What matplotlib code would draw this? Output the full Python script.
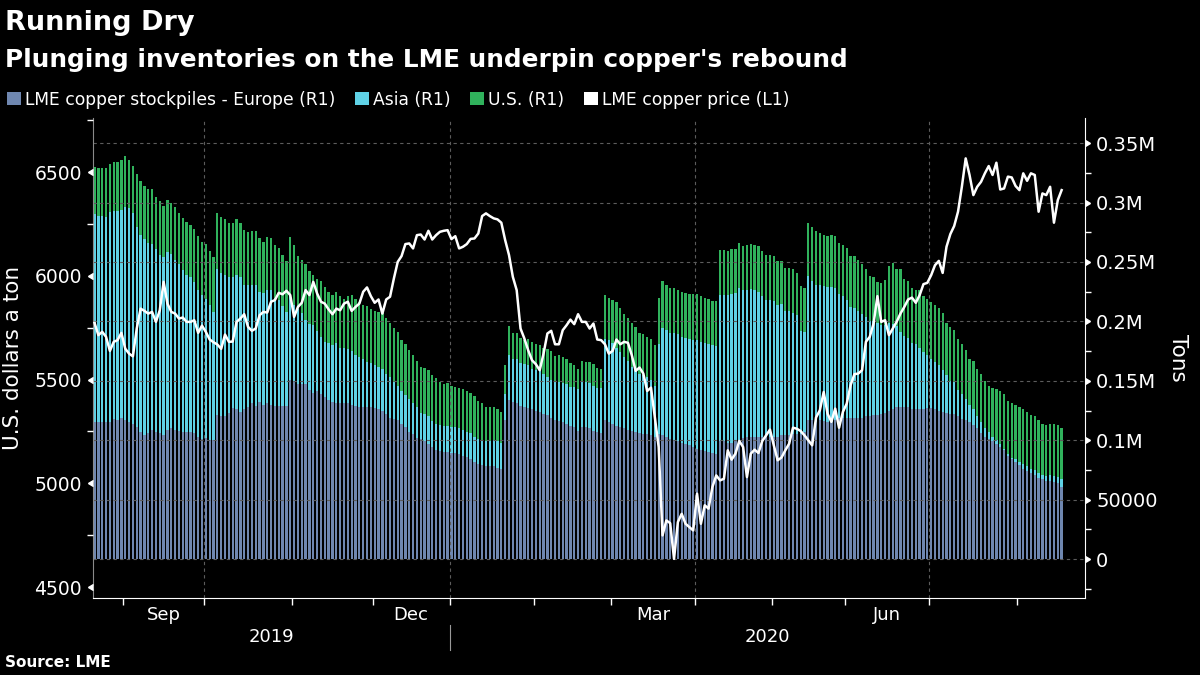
import numpy as np
import pandas as pd
import matplotlib
matplotlib.use('Agg')
import matplotlib.pyplot as plt
import matplotlib.transforms as mtransforms
from matplotlib import markers as mmarkers
from matplotlib.patches import Patch
from matplotlib.ticker import FuncFormatter, MultipleLocator

# LME trading days (UK bank holidays left out)
holidays = ['2019-08-26', '2019-12-25', '2019-12-26', '2020-01-01',
            '2020-04-10', '2020-04-13', '2020-05-08', '2020-05-25']
dates = pd.bdate_range('2019-08-20', '2020-08-18', freq='C', holidays=holidays)

# LME copper stockpiles, thousand tonnes
europe = [115, 115, 115, 115, 115, 118, 117, 119, 117, 115, 114, 111, 107, 104, 106, 109, 107, 106, 104, 109,
          110, 109, 108, 107, 107, 107, 106, 103, 101, 102, 100, 100, 121, 120, 120, 123, 127, 126, 124, 126,
          128, 131, 129, 132, 130, 131, 130, 129, 129, 129, 129, 151, 150, 147, 147, 147, 142, 140, 141, 139,
          136, 134, 132, 131,
          131, 131, 131, 130, 129, 128, 128, 128, 128, 127, 126, 125, 122, 119, 118, 117, 114, 111, 107, 105,
          102, 101, 99, 97, 94, 92, 91, 90, 90, 89, 89, 88, 87, 86, 84, 82, 80, 79, 78, 78,
          78, 77, 76, 117, 134, 132, 131, 129, 128, 127, 126, 125, 124, 122, 121, 119, 117, 116, 115, 114,
          112, 111, 108, 111,
          111, 110, 108, 107, 106, 117, 115, 114, 112, 111, 110, 109, 108, 107, 106, 105, 105, 104, 103, 105,
          104, 103, 101, 100, 99, 98, 97, 96, 94, 93, 92, 91, 90, 89, 88, 99, 99, 98, 98, 99,
          100, 102, 103, 103, 103, 103, 103, 103, 103, 103, 103, 104, 104, 104, 105, 105, 105, 107, 117, 117,
          115, 117, 116, 115,
          115, 117, 119, 119, 119, 119, 119, 119, 119, 120, 120, 121, 121, 122, 123, 125, 126, 128, 128, 128,
          128, 126, 126, 126, 126, 127, 127, 126, 125, 124, 123, 122, 122, 120, 118, 117, 115, 113, 110, 106,
          103, 101, 99, 97, 94, 92, 87, 84, 82, 79, 76, 74, 72, 71, 68, 67, 66, 66, 65, 64,
          61]
asia = [175, 174, 174, 173, 177, 175, 176, 175, 179, 180, 177, 168, 166, 165, 160, 156, 154, 150, 150, 149,
        147, 143, 140, 136, 132, 130, 127, 123, 121, 117, 114, 108, 123, 121, 119, 114, 110, 113, 113, 105,
        103, 100, 102, 93, 94, 95, 96, 91, 89, 84, 79, 70, 64, 63, 60, 54, 56, 57, 51, 48,
        47, 48, 48, 51,
        47, 47, 46, 45, 43, 42, 40, 38, 37, 36, 36, 35, 34, 34, 31, 29, 27, 27, 28, 26,
        26, 22, 23, 23, 22, 22, 22, 22, 22, 22, 22, 22, 22, 21, 22, 21, 21, 21, 21, 21,
        22, 22, 22, 22, 38, 36, 37, 36, 36, 36, 34, 34, 34, 34, 32, 32, 32, 33, 33, 33,
        33, 34, 35, 39,
        38, 38, 38, 37, 38, 68, 69, 68, 66, 63, 60, 58, 54, 52, 50, 50, 48, 47, 43, 76,
        90, 90, 89, 90, 90, 89, 89, 89, 90, 91, 91, 91, 91, 91, 91, 123, 123, 124, 125, 125,
        128, 124, 123, 124, 123, 122, 118, 115, 115, 114, 111, 111, 105, 105, 102, 100, 87, 84, 121, 117,
        116, 114, 114, 114,
        114, 111, 104, 102, 99, 93, 92, 90, 87, 84, 80, 79, 78, 75, 74, 74, 72, 68, 63, 60,
        58, 56, 55, 52, 48, 45, 41, 40, 38, 35, 32, 28, 27, 22, 21, 18, 15, 13, 10, 9,
        7, 6, 4, 3, 3, 1, 1, 1, 2, 3, 4, 4, 4, 4, 4, 4, 4, 5, 5, 5,
        6]
us = [40, 40, 40, 41, 40, 41, 41, 42, 43, 41, 40, 45, 45, 45, 45, 46, 44, 45, 43, 44,
      43, 44, 43, 44, 45, 44, 45, 46, 45, 46, 45, 46, 47, 47, 47, 46, 46, 47, 46, 46,
      44, 45, 45, 45, 43, 45, 44, 44, 44, 43, 43, 50, 50, 45, 45, 47, 44, 42, 44, 47,
      46, 43, 42, 43,
      43, 41, 44, 47, 47, 46, 46, 47, 45, 46, 46, 47, 47, 46, 45, 45, 43, 43, 41, 41,
      39, 39, 39, 39, 39, 38, 36, 35, 36, 35, 34, 34, 34, 34, 34, 34, 32, 31, 29, 29,
      28, 27, 26, 24, 24, 22, 22, 21, 20, 22, 23, 22, 22, 22, 24, 24, 22, 23, 22, 21,
      20, 18, 17, 17,
      17, 18, 18, 17, 16, 37, 36, 36, 38, 37, 36, 36, 37, 36, 34, 34, 34, 34, 34, 39,
      40, 38, 38, 38, 37, 38, 38, 38, 39, 39, 38, 38, 38, 37, 38, 38, 38, 37, 38, 37,
      38, 37, 38, 38, 38, 38, 38, 38, 38, 38, 37, 36, 36, 36, 37, 36, 38, 37, 45, 45,
      45, 43, 43, 43,
      44, 44, 43, 43, 44, 43, 44, 43, 42, 40, 38, 37, 34, 35, 38, 48, 51, 48, 53, 48,
      48, 46, 45, 48, 47, 47, 48, 48, 48, 48, 44, 45, 44, 43, 42, 41, 38, 41, 40, 41,
      40, 39, 41, 43, 44, 46, 45, 46, 46, 46, 46, 46, 45, 45, 45, 43, 43, 43, 44, 44,
      43]

# LME copper price, US$ per ton
price = [5773, 5714, 5730, 5706, 5638, 5682, 5690, 5725, 5649, 5625, 5612, 5746, 5842, 5831, 5818, 5826, 5778, 5834, 5971, 5866,
         5826, 5818, 5794, 5799, 5778, 5778, 5786, 5725, 5760, 5730, 5693, 5680, 5669, 5648, 5717, 5682, 5683, 5778, 5794, 5815,
         5754, 5735, 5746, 5810, 5826, 5823, 5875, 5883, 5918, 5911, 5928, 5907, 5802, 5850, 5870, 5931, 5907, 5971, 5915, 5875,
         5866, 5838, 5815, 5842,
         5834, 5866, 5875, 5831, 5850, 5866, 5923, 5944, 5902, 5870, 5886, 5818, 5886, 5899, 5987, 6067, 6095, 6153, 6156, 6132,
         6196, 6199, 6175, 6217, 6175, 6196, 6212, 6217, 6220, 6177, 6191, 6132, 6140, 6153, 6178, 6180, 6204, 6288, 6301, 6288,
         6277, 6272, 6256, 6172, 6100, 5995, 5931, 5746, 5698, 5641, 5593, 5574, 5545, 5625, 5722, 5735, 5670, 5670, 5738, 5762,
         5789, 5767, 5815, 5778,
         5778, 5746, 5770, 5693, 5690, 5670, 5625, 5638, 5693, 5670, 5682, 5677, 5617, 5542, 5558, 5529, 5445, 5461, 5320, 5175,
         4749, 4821, 4808, 4636, 4813, 4853, 4805, 4789, 4773, 4950, 4805, 4894, 4878, 4982, 5038, 5014, 5022, 5159, 5114, 5143,
         5204, 5175, 5030, 5143, 5162, 5146, 5204, 5231, 5259, 5183, 5111, 5124, 5159, 5191, 5268, 5263, 5252, 5231, 5207, 5183,
         5317, 5352, 5440, 5336,
         5296, 5360, 5268, 5344, 5384, 5472, 5526, 5529, 5545, 5682, 5706, 5770, 5902, 5778, 5786, 5714, 5746, 5778, 5818, 5850,
         5886, 5895, 5870, 5907, 5960, 5966, 6003, 6051, 6072, 6014, 6140, 6201, 6240, 6309, 6429, 6566, 6486, 6389, 6429, 6453,
         6494, 6529, 6486, 6545, 6416, 6421, 6478, 6474, 6433, 6413, 6494, 6458, 6494, 6486, 6309, 6397, 6389, 6429, 6256, 6365,
         6413]

c_eu = '#6f87b0'
c_asia = '#5fd2e6'
c_us = '#30b25c'
grid_c = '#5c5c5c'

x = np.arange(len(dates))
eu_t = np.array(europe) * 1000.0
asia_t = np.array(asia) * 1000.0
us_t = np.array(us) * 1000.0

fig = plt.figure(figsize=(12, 6.75), dpi=100, facecolor='black')
ax = fig.add_axes([0.0775, 0.114, 0.8267, 0.711], facecolor='black')
ax2 = ax.twinx()   # price axis, drawn on top of the bars

w = 0.6
ax.bar(x, eu_t, width=w, color=c_eu, linewidth=0)
ax.bar(x, asia_t, width=w, bottom=eu_t, color=c_asia, linewidth=0)
ax.bar(x, us_t, width=w, bottom=eu_t + asia_t, color=c_us, linewidth=0)

ax.set_xlim(-0.4, 258.1)
ax.set_ylim(-32800, 371000)

# right axis (tons)
ax.yaxis.tick_right()
ax.yaxis.set_label_position('right')
ax.yaxis.set_major_locator(MultipleLocator(50000))
ax.yaxis.set_minor_locator(MultipleLocator(25000))

def fmt_tons(v, pos):
    if v == 0:
        return '0'
    if v < 100000:
        return '%d' % v
    return '%gM' % (v / 1e6)

ax.yaxis.set_major_formatter(FuncFormatter(fmt_tons))
ax.tick_params(axis='y', which='major', colors='white', labelsize=14, length=5, width=1, pad=3)
ax.tick_params(axis='y', which='minor', colors='white', length=4, width=1)
for t in ax.yaxis.get_major_ticks():
    t.tick2line.set_marker(mmarkers.CARETRIGHTBASE)
ax.set_ylabel('Tons', color='white', fontsize=15.5, rotation=270, labelpad=22)
ax.yaxis.grid(True, which='major', color=grid_c, linestyle=(0, (3, 3)), linewidth=0.8)

# month ticks on x axis
months = dates.to_period('M')
starts = [i for i in range(1, len(dates)) if months[i] != months[i - 1]]
starts = [0] + starts + [len(dates)]
bounds = [s - 0.5 for s in starts[1:-1]]
ax.set_xticks(bounds, minor=True)
centers, mlabels = [], []
for a, b in zip(starts[:-1], starts[1:]):
    m = dates[a]
    if m.month in (3, 6, 9, 12):
        centers.append((a + b - 1) / 2.0)
        mlabels.append(m.strftime('%b'))
ax.set_xticks(centers)
ax.set_xticklabels(mlabels)
ax.tick_params(axis='x', which='major', length=0, colors='white', labelsize=13, pad=6)
ax.tick_params(axis='x', which='minor', length=5, color='white', width=1)

for s in starts[1:-1]:
    if dates[s].month in (1, 4, 7, 10):
        ax.axvline(s - 0.5, color=grid_c, linestyle=(0, (3, 3)), linewidth=0.8, zorder=1.5)

# year labels and divider
trans = mtransforms.blended_transform_factory(ax.transData, ax.transAxes)
ybreak = [s for s in starts[1:-1] if dates[s].month == 1][0] - 0.5
xl = ax.get_xlim()
ax.text((xl[0] + ybreak) / 2, -0.081, '2019', transform=trans, color='white',
        fontsize=13, ha='center', va='center')
ax.text((ybreak + xl[1]) / 2, -0.081, '2020', transform=trans, color='white',
        fontsize=13, ha='center', va='center')
ax.plot([ybreak, ybreak], [-0.056, -0.108], transform=trans, color='#9a9a9a',
        linewidth=0.8, clip_on=False)

ax.spines['top'].set_visible(False)
ax.spines['bottom'].set_color('white')
ax.spines['right'].set_color('white')
ax.spines['left'].set_color('#8a8a8a')
ax.spines['left'].set_linewidth(0.8)

# price line on left axis
ax2.plot(x, price, color='white', linewidth=1.8, zorder=5)
ax2.set_ylim(4447, 6760)
ax2.yaxis.tick_left()
ax2.yaxis.set_label_position('left')
ax2.yaxis.set_major_locator(MultipleLocator(500))
ax2.yaxis.set_minor_locator(MultipleLocator(250))
ax2.tick_params(axis='y', which='major', colors='white', labelsize=13.5, length=5, width=1, pad=3)
ax2.tick_params(axis='y', which='minor', colors='white', length=4, width=1)
for t in ax2.yaxis.get_major_ticks():
    t.tick1line.set_marker(mmarkers.CARETLEFTBASE)
ax2.set_ylabel('U.S. dollars a ton', color='white', fontsize=15.5, labelpad=8)
for side in ax2.spines:
    ax2.spines[side].set_visible(False)

# titles, legend, source
fig.text(0.004, 0.966, 'Running Dry', color='white', fontsize=19.5, fontweight='bold', va='center')
fig.text(0.004, 0.911, "Plunging inventories on the LME underpin copper's rebound", color='white',
         fontsize=17.8, fontweight='bold', va='center')
handles = [Patch(facecolor=c_eu, label='LME copper stockpiles - Europe (R1)'),
           Patch(facecolor=c_asia, label='Asia (R1)'),
           Patch(facecolor=c_us, label='U.S. (R1)'),
           Patch(facecolor='white', label='LME copper price (L1)')]
fig.legend(handles=handles, loc='center left', bbox_to_anchor=(0.006, 0.852), ncol=4,
           frameon=False, fontsize=12.3, labelcolor='white', handlelength=0.8, handleheight=0.8,
           handletextpad=0.25, columnspacing=1.15, borderaxespad=0, borderpad=0)
fig.text(0.004, 0.018, 'Source: LME', color='white', fontsize=11, fontweight='bold', va='center')

fig.savefig('out.png', dpi=100, facecolor='black')
